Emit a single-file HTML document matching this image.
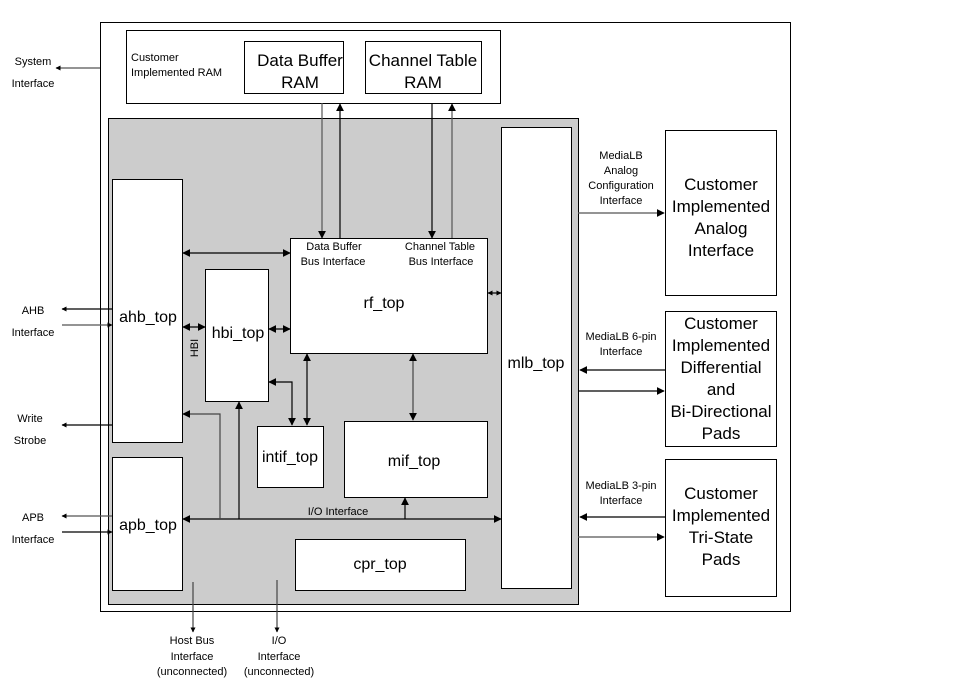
<!DOCTYPE html>
<html><head><meta charset="utf-8"><style>
html,body{margin:0;padding:0;background:#fff}
svg{display:block}
text{font-family:"Liberation Sans",sans-serif;fill:#000}
.s{font-size:11px}
.m{font-size:17px}
.l{font-size:16px}
</style></head><body>
<svg width="960" height="690" viewBox="0 0 960 690" xmlns="http://www.w3.org/2000/svg">
<defs>
<marker id="a" viewBox="0 0 10 10" refX="9" refY="5" markerWidth="8" markerHeight="8" orient="auto-start-reverse" markerUnits="userSpaceOnUse"><path d="M0,0 L10,5 L0,10 z" fill="#000"/></marker>
<marker id="b" viewBox="0 0 10 10" refX="9" refY="5" markerWidth="5" markerHeight="5" orient="auto-start-reverse" markerUnits="userSpaceOnUse"><path d="M0,0 L10,5 L0,10 z" fill="#000"/></marker>
</defs>
<g fill="none" stroke="#000" stroke-width="1">
<rect x="100.5" y="22.5" width="690" height="589"/>
<rect x="126.5" y="30.5" width="374" height="73" fill="#fff"/>
<rect x="244.5" y="41.5" width="99" height="52" fill="#fff"/>
<rect x="365.5" y="41.5" width="116" height="52" fill="#fff"/>
<rect x="108.5" y="118.5" width="470" height="486" fill="#cccccc"/>
<rect x="112.5" y="179.5" width="70" height="263" fill="#fff"/>
<rect x="112.5" y="457.5" width="70" height="133" fill="#fff"/>
<rect x="205.5" y="269.5" width="63" height="132" fill="#fff"/>
<rect x="290.5" y="238.5" width="197" height="115" fill="#fff"/>
<rect x="257.5" y="426.5" width="66" height="61" fill="#fff"/>
<rect x="344.5" y="421.5" width="143" height="76" fill="#fff"/>
<rect x="295.5" y="539.5" width="170" height="51" fill="#fff"/>
<rect x="501.5" y="127.5" width="70" height="461" fill="#fff"/>
<rect x="665.5" y="130.5" width="111" height="165" fill="#fff"/>
<rect x="665.5" y="311.5" width="111" height="135" fill="#fff"/>
<rect x="665.5" y="459.5" width="111" height="137" fill="#fff"/>
</g>
<g stroke="#000" stroke-width="1.2" fill="none">
<line x1="100" y1="68" x2="56" y2="68" stroke="#555" marker-end="url(#b)"/>
<line x1="112" y1="309" x2="62" y2="309" marker-end="url(#b)"/>
<line x1="62" y1="325" x2="112" y2="325" stroke="#555" marker-end="url(#b)"/>
<line x1="112" y1="425" x2="62" y2="425" marker-end="url(#b)"/>
<line x1="112" y1="516" x2="62" y2="516" stroke="#555" marker-end="url(#b)"/>
<line x1="62" y1="532" x2="112" y2="532" marker-end="url(#b)"/>
<line x1="322" y1="103" x2="322" y2="238" stroke="#555" marker-end="url(#a)"/>
<line x1="340" y1="238" x2="340" y2="104" marker-end="url(#a)"/>
<line x1="432" y1="103" x2="432" y2="238" marker-end="url(#a)"/>
<line x1="452" y1="238" x2="452" y2="104" stroke="#555" marker-end="url(#a)"/>
<line x1="183" y1="253" x2="290" y2="253" marker-start="url(#a)" marker-end="url(#a)"/>
<line x1="183" y1="327" x2="205" y2="327" marker-start="url(#a)" marker-end="url(#a)"/>
<line x1="269" y1="329" x2="290" y2="329" marker-start="url(#a)" marker-end="url(#a)"/>
<line x1="488" y1="293" x2="501" y2="293" marker-start="url(#b)" marker-end="url(#b)"/>
<line x1="307" y1="354" x2="307" y2="425" marker-start="url(#a)" marker-end="url(#a)"/>
<polyline points="269,382 292,382 292,425" marker-start="url(#a)" marker-end="url(#a)"/>
<line x1="413" y1="354" x2="413" y2="420" stroke="#444" marker-start="url(#a)" marker-end="url(#a)"/>
<line x1="183" y1="519" x2="501" y2="519" marker-start="url(#a)" marker-end="url(#a)"/>
<polyline points="220,519 220,414 183,414" stroke="#444" marker-end="url(#a)"/>
<line x1="239" y1="519" x2="239" y2="402" marker-end="url(#a)"/>
<line x1="405" y1="519" x2="405" y2="498" marker-end="url(#a)"/>
<line x1="193" y1="582" x2="193" y2="632" stroke="#444" marker-end="url(#b)"/>
<line x1="277" y1="580" x2="277" y2="632" stroke="#444" marker-end="url(#b)"/>
<line x1="578" y1="213" x2="664" y2="213" stroke="#555" marker-end="url(#a)"/>
<line x1="665" y1="370" x2="580" y2="370" marker-end="url(#a)"/>
<line x1="578" y1="391" x2="664" y2="391" marker-end="url(#a)"/>
<line x1="665" y1="517" x2="580" y2="517" marker-end="url(#a)"/>
<line x1="578" y1="537" x2="664" y2="537" stroke="#555" marker-end="url(#a)"/>
</g>
<g class="s">
<text x="33" y="65" text-anchor="middle">System</text>
<text x="33" y="87" text-anchor="middle">Interface</text>
<text x="33" y="314" text-anchor="middle">AHB</text>
<text x="33" y="336" text-anchor="middle">Interface</text>
<text x="30" y="422" text-anchor="middle">Write</text>
<text x="30" y="444" text-anchor="middle">Strobe</text>
<text x="33" y="521" text-anchor="middle">APB</text>
<text x="33" y="543" text-anchor="middle">Interface</text>
<text x="131" y="61">Customer</text>
<text x="131" y="76">Implemented RAM</text>
<text x="334" y="250" text-anchor="middle">Data Buffer</text>
<text x="333" y="265" text-anchor="middle">Bus Interface</text>
<text x="440" y="250" text-anchor="middle">Channel Table</text>
<text x="441" y="265" text-anchor="middle">Bus Interface</text>
<text x="338" y="515" text-anchor="middle">I/O Interface</text>
<text x="192" y="644" text-anchor="middle">Host Bus</text>
<text x="192" y="660" text-anchor="middle">Interface</text>
<text x="192" y="675" text-anchor="middle">(unconnected)</text>
<text x="279" y="644" text-anchor="middle">I/O</text>
<text x="279" y="660" text-anchor="middle">Interface</text>
<text x="279" y="675" text-anchor="middle">(unconnected)</text>
<text x="621" y="159" text-anchor="middle">MediaLB</text>
<text x="621" y="174" text-anchor="middle">Analog</text>
<text x="621" y="189" text-anchor="middle">Configuration</text>
<text x="621" y="204" text-anchor="middle">Interface</text>
<text x="621" y="340" text-anchor="middle">MediaLB 6-pin</text>
<text x="621" y="355" text-anchor="middle">Interface</text>
<text x="621" y="489" text-anchor="middle">MediaLB 3-pin</text>
<text x="621" y="504" text-anchor="middle">Interface</text>
<text transform="translate(198,348) rotate(-90)" text-anchor="middle" font-size="11">HBI</text>
</g>
<g class="m" text-anchor="middle">
<text x="300" y="66">Data Buffer</text>
<text x="300" y="88">RAM</text>
<text x="423" y="66">Channel Table</text>
<text x="423" y="88">RAM</text>
<text x="721" y="190">Customer</text>
<text x="721" y="212">Implemented</text>
<text x="721" y="234">Analog</text>
<text x="721" y="256">Interface</text>
<text x="721" y="329">Customer</text>
<text x="721" y="351">Implemented</text>
<text x="721" y="373">Differential</text>
<text x="721" y="395">and</text>
<text x="721" y="417">Bi-Directional</text>
<text x="721" y="439">Pads</text>
<text x="721" y="499">Customer</text>
<text x="721" y="521">Implemented</text>
<text x="721" y="543">Tri-State</text>
<text x="721" y="565">Pads</text>
</g>
<g class="l" text-anchor="middle">
<text x="148" y="322">ahb_top</text>
<text x="148" y="530">apb_top</text>
<text x="238" y="338">hbi_top</text>
<text x="384" y="308">rf_top</text>
<text x="290" y="462">intif_top</text>
<text x="414" y="466">mif_top</text>
<text x="380" y="569">cpr_top</text>
<text x="536" y="368">mlb_top</text>
</g>
</svg>
</body></html>
